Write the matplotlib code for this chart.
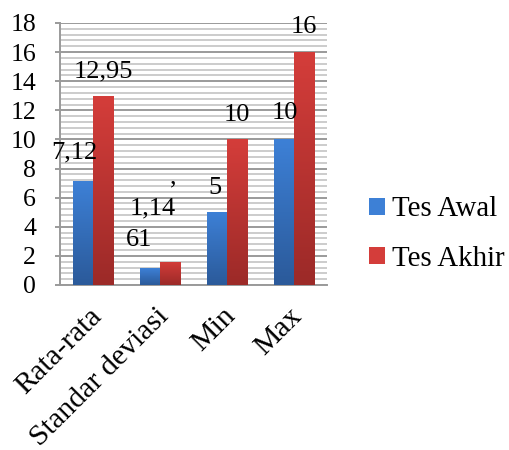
import numpy as np
import matplotlib
matplotlib.use("Agg")
import matplotlib.pyplot as plt
from matplotlib.colors import LinearSegmentedColormap
from matplotlib.patches import Patch
from matplotlib.transforms import ScaledTranslation

categories = ["Rata-rata", "Standar deviasi", "Min", "Max"]
tes_awal = [7.12, 1.14, 5, 10]
tes_akhir = [12.95, 1.61, 10, 16]
series_names = ["Tes Awal", "Tes Akhir"]
y_ticks = [0, 2, 4, 6, 8, 10, 12, 14, 16, 18]

plt.rcParams['font.family'] = ['Liberation Serif', 'DejaVu Serif']

fig = plt.figure(figsize=(5.1, 4.5), dpi=100)
ax = fig.add_axes([0.1176, 0.3667, 0.5235, 0.5822])

x = np.arange(len(categories))
w = 0.3
blue_top, blue_bot = "#3d80d6", "#2b5a9a"
red_top, red_bot = "#d43d3a", "#9c2a28"

def grad_bars(xs, vals, top, bot):
    bars = ax.bar(xs, vals, width=w, color=top, zorder=3, linewidth=0)
    cmap = LinearSegmentedColormap.from_list("g", [bot, top])
    grad = np.linspace(0, 1, 100).reshape(-1, 1)
    for b in bars:
        bx, by = b.get_x(), b.get_y()
        bw, bh = b.get_width(), b.get_height()
        im = ax.imshow(grad, extent=[bx, bx + bw, by, by + bh], origin="lower",
                       cmap=cmap, aspect="auto", zorder=4)
        im.set_clip_path(b)
    return bars

grad_bars(x - w / 2, tes_awal, blue_top, blue_bot)
grad_bars(x + w / 2, tes_akhir, red_top, red_bot)

ax.set_xlim(-0.5, len(categories) - 0.5)
ax.set_ylim(0, 18)
ax.set_yticks(y_ticks)
ax.set_yticks(np.arange(0, 18.01, 0.4), minor=True)
ax.grid(axis="y", which="major", color="#9a9a9a", lw=1.4, zorder=1)
ax.grid(axis="y", which="minor", color="#cccccc", lw=1.4, zorder=0)
ax.tick_params(axis="y", which="major", length=3.6, color="#9a9a9a", width=1.4,
               labelsize=18.5, pad=13.5)
ax.tick_params(axis="y", which="minor", length=0)
ax.tick_params(axis="x", length=0, pad=13)
ax.set_xticks(x)
ax.set_xticklabels(categories, rotation=45, ha="right", rotation_mode="anchor",
                   fontsize=21.5)
shift = ScaledTranslation(-5 / 100, 0, fig.dpi_scale_trans)
for lbl in ax.get_xticklabels():
    lbl.set_transform(lbl.get_transform() + shift)
for s in ["top", "right"]:
    ax.spines[s].set_visible(False)
for s in ["left", "bottom"]:
    ax.spines[s].set_color("#9a9a9a")
    ax.spines[s].set_linewidth(1.4)

# data labels
lab_fs = 19
awal_labels = ["7,12", "1,14", "5", "10"]
akhir_labels = ["12,95", "61", "10", "16"]
awal_dx = [-0.13, 0.04, -0.03, 0.02]
awal_dy = [1.96, 4.15, 1.67, 1.8]
akhir_dx = [0.0, -0.47, 0.0, 0.0]
akhir_dy = [1.7, 1.5, 1.7, 1.7]
for i in range(len(categories)):
    ax.text(x[i] - w / 2 + awal_dx[i], tes_awal[i] + awal_dy[i], awal_labels[i],
            ha="center", va="center", fontsize=lab_fs, zorder=6)
    ax.text(x[i] + w / 2 + akhir_dx[i], tes_akhir[i] + akhir_dy[i], akhir_labels[i],
            ha="center", va="center", fontsize=lab_fs, zorder=6)
ax.text(x[1] + w / 2 + 0.05, 7.4, ",", ha="center", va="center", fontsize=lab_fs, zorder=6)

handles = [Patch(facecolor=blue_top, edgecolor="none"),
           Patch(facecolor=red_top, edgecolor="none")]
fig.legend(handles, series_names, loc="center left", bbox_to_anchor=(0.723, 0.48),
           frameon=False, fontsize=20.8, handlelength=0.55, handleheight=0.55,
           handletextpad=0.25, labelspacing=0.8, borderaxespad=0, borderpad=0)

fig.savefig("out.png", dpi=100)
